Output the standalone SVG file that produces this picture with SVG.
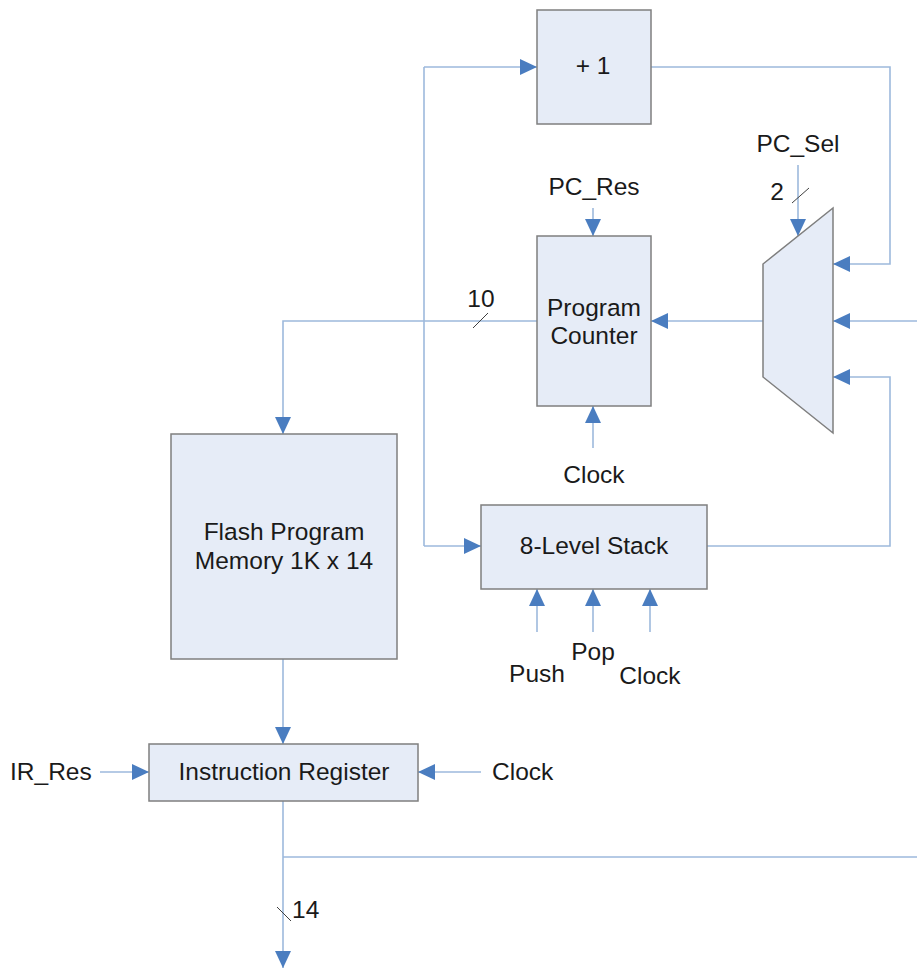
<svg xmlns="http://www.w3.org/2000/svg" width="917" height="968" viewBox="0 0 917 968">
  <style>
    .blk { fill: #E6ECF7; stroke: #7F7F7F; stroke-width: 1.5; }
    .wire { fill: none; stroke: #9DB9DC; stroke-width: 1.6; }
    .arr { marker-end: url(#head); }
    .bus { stroke: #404040; stroke-width: 1; }
    text { font-family: "Liberation Sans", Arial, sans-serif; font-size: 24.5px; fill: #1A1A1A; }
    .c { text-anchor: middle; }
  </style>
  <defs>
    <marker id="head" markerUnits="userSpaceOnUse" markerWidth="18" markerHeight="16" refX="17" refY="8" orient="auto">
      <path d="M0,0 L17,8 L0,16 Z" fill="#4A7DC0"/>
    </marker>
  </defs>

  <!-- connectors -->
  <g id="connectors">
    <!-- stack / increment feed from the address bus -->
    <path class="wire" d="M424,546 L424,67"/>
    <path class="wire arr" d="M424,67 L537,67"/>
    <path class="wire arr" d="M424,546 L481,546"/>
    <!-- +1 result to mux -->
    <path class="wire arr" d="M651,67 L890,67 L890,264 L833,264"/>
    <!-- external input to mux -->
    <path class="wire arr" d="M917,321 L833,321"/>
    <!-- stack top to mux -->
    <path class="wire arr" d="M707,546 L890,546 L890,377 L833,377"/>
    <!-- mux to program counter -->
    <path class="wire arr" d="M763,321 L651,321"/>
    <!-- program counter to flash -->
    <path class="wire arr" d="M537,321 L283,321 L283,434"/>
    <!-- control inputs -->
    <path class="wire arr" d="M798,165 L798,236"/>
    <path class="wire arr" d="M593,208 L593,236"/>
    <path class="wire arr" d="M593,448 L593,406"/>
    <path class="wire arr" d="M537,632 L537,589"/>
    <path class="wire arr" d="M593,632 L593,589"/>
    <path class="wire arr" d="M650,632 L650,589"/>
    <!-- flash to instruction register -->
    <path class="wire arr" d="M283,659 L283,744"/>
    <path class="wire arr" d="M100,772 L149,772"/>
    <path class="wire arr" d="M481,772 L418,772"/>
    <!-- instruction register output -->
    <path class="wire arr" d="M283,801 L283,968"/>
    <path class="wire" d="M283,857 L917,857"/>
    <!-- bus width ticks -->
    <line class="bus" x1="792" y1="203" x2="809" y2="188"/>
    <line class="bus" x1="473" y1="328" x2="488" y2="313"/>
    <line class="bus" x1="277" y1="907" x2="291" y2="921"/>
  </g>

  <g id="incrementer">
    <rect class="blk" x="537" y="10" width="114" height="114"/>
    <text class="c" x="593" y="74">+ 1</text>
  </g>

  <g id="pc-mux">
    <polygon class="blk" points="763,264 833,208 833,433 763,377"/>
  </g>

  <g id="program-counter">
    <rect class="blk" x="537" y="236" width="114" height="170"/>
    <text class="c" x="594" y="316">Program</text>
    <text class="c" x="594" y="344">Counter</text>
  </g>

  <g id="flash-memory">
    <rect class="blk" x="171" y="434" width="226" height="225"/>
    <text class="c" x="284" y="540">Flash Program</text>
    <text class="c" x="284" y="569">Memory 1K x 14</text>
  </g>

  <g id="stack">
    <rect class="blk" x="481" y="505" width="226" height="84"/>
    <text class="c" x="594" y="554">8-Level Stack</text>
  </g>

  <g id="instruction-register">
    <rect class="blk" x="149" y="744" width="269" height="57"/>
    <text class="c" x="284" y="780">Instruction Register</text>
  </g>

  <g id="labels">
    <text class="c" x="798" y="152">PC_Sel</text>
    <text class="c" x="777" y="200">2</text>
    <text class="c" x="594" y="195">PC_Res</text>
    <text class="c" x="481" y="307">10</text>
    <text class="c" x="594" y="483">Clock</text>
    <text class="c" x="537" y="682">Push</text>
    <text class="c" x="593" y="660">Pop</text>
    <text class="c" x="650" y="684">Clock</text>
    <text x="10" y="780">IR_Res</text>
    <text x="492" y="780">Clock</text>
    <text x="292" y="918">14</text>
  </g>
</svg>
